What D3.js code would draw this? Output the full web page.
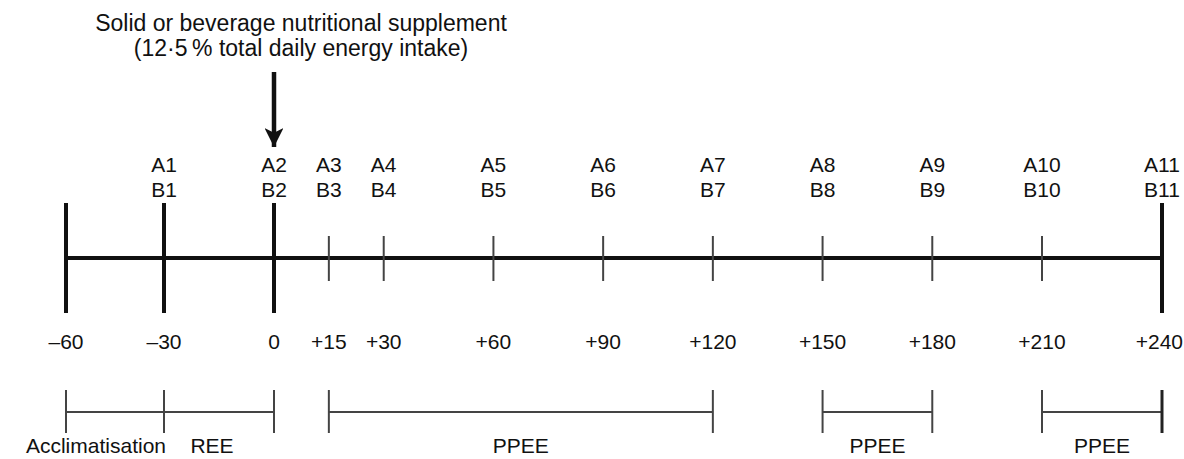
<!DOCTYPE html>
<html>
<head>
<meta charset="utf-8">
<script src="https://cdn.jsdelivr.net/npm/d3@7"></script>
<style>
  html, body { margin: 0; padding: 0; background: #fff; }
  svg text { font-family: "Liberation Sans", Arial, Helvetica, sans-serif; fill: #111; }
</style>
</head>
<body>
<svg id="chart" width="1184" height="459"></svg>
<script>
// ---- data ----
const tickTimes = [-60, -30, 0, 15, 30, 60, 90, 120, 150, 180, 210, 240];
const tickLabels = ["\u201360", "\u201330", "0", "+15", "+30", "+60", "+90", "+120", "+150", "+180", "+210", "+240"];
const majorTimes = [-60, -30, 0, 240];
const sampleTimes = [-30, 0, 15, 30, 60, 90, 120, 150, 180, 210, 240];
const sampleA = ["A1", "A2", "A3", "A4", "A5", "A6", "A7", "A8", "A9", "A10", "A11"];
const sampleB = ["B1", "B2", "B3", "B4", "B5", "B6", "B7", "B8", "B9", "B10", "B11"];
const phaseStart = [-60, -30, 15, 150, 210];
const phaseEnd = [-30, 0, 120, 180, 240];
const phaseLabels = ["Acclimatisation", "REE", "PPEE", "PPEE", "PPEE"];
const supplementTime = 0;
const titleLines = ["Solid or beverage nutritional supplement", "(12\u00b75\u2009% total daily energy intake)"];

// ---- layout ----
const W = 1184;
const svg = d3.select("#chart");
const x = d3.scaleLinear().domain([-60, -30, 0, 210, 240]).range([66, 164, 274, 1042, 1162]);
const lineY = 258;
const FS = 21;

// keep centred labels inside the right edge
function clampRight(sel) {
  sel.each(function () {
    const w = this.getComputedTextLength();
    const cx = +this.getAttribute("x");
    if (cx + w / 2 > W - 1) this.setAttribute("x", W - 1 - w / 2);
  });
}

// title
svg.append("g").selectAll("text").data(titleLines).join("text")
  .attr("x", 301).attr("y", (d, i) => 31 + i * 25)
  .attr("text-anchor", "middle").style("font-size", "23px").text(d => d);

// arrow
svg.append("defs").append("marker")
  .attr("id", "ah").attr("viewBox", "0 0 10 10").attr("refX", 10).attr("refY", 5)
  .attr("markerWidth", 4.2).attr("markerHeight", 4.2).attr("markerUnits", "strokeWidth")
  .attr("orient", "auto")
  .append("path").attr("d", "M0,0 L10,5 L0,10 L2.5,5 Z").attr("fill", "#111");
svg.append("line")
  .attr("x1", x(supplementTime)).attr("x2", x(supplementTime))
  .attr("y1", 72).attr("y2", 147)
  .attr("stroke", "#111").attr("stroke-width", 4.5).attr("marker-end", "url(#ah)");

// main line
svg.append("line")
  .attr("x1", x(tickTimes[0])).attr("x2", x(tickTimes[tickTimes.length - 1]))
  .attr("y1", lineY).attr("y2", lineY)
  .attr("stroke", "#111").attr("stroke-width", 4);

// ticks
svg.append("g").selectAll("line").data(tickTimes).join("line")
  .attr("x1", d => x(d)).attr("x2", d => x(d))
  .attr("y1", d => majorTimes.includes(d) ? 203 : 236)
  .attr("y2", d => majorTimes.includes(d) ? 313 : 281)
  .attr("stroke", d => majorTimes.includes(d) ? "#111" : "#444")
  .attr("stroke-width", d => majorTimes.includes(d) ? 4 : 2);

// tick labels
svg.append("g").selectAll("text").data(tickTimes).join("text")
  .attr("x", d => x(d)).attr("y", 349)
  .attr("text-anchor", "middle").style("font-size", FS + "px")
  .text((d, i) => tickLabels[i])
  .call(clampRight);

// sample labels
const sg = svg.append("g");
sg.selectAll("text.a").data(sampleTimes).join("text").attr("class", "a")
  .attr("x", d => x(d)).attr("y", 172).attr("text-anchor", "middle")
  .style("font-size", FS + "px").text((d, i) => sampleA[i])
  .call(clampRight);
sg.selectAll("text.b").data(sampleTimes).join("text").attr("class", "b")
  .attr("x", d => x(d)).attr("y", 197).attr("text-anchor", "middle")
  .style("font-size", FS + "px").text((d, i) => sampleB[i])
  .call(clampRight);

// phase brackets
const pg = svg.append("g");
const bY = 412, bTop = 390, bBot = 433;
phaseStart.forEach((s, i) => {
  const e = phaseEnd[i];
  const g = pg.append("g");
  g.append("line").attr("x1", x(s)).attr("x2", x(e)).attr("y1", bY).attr("y2", bY)
    .attr("stroke", "#444").attr("stroke-width", 2);
  [s, e].forEach(t => {
    g.append("line").attr("x1", x(t)).attr("x2", x(t)).attr("y1", bTop).attr("y2", bBot)
      .attr("stroke", t === 240 ? "#222" : "#444").attr("stroke-width", t === 240 ? 3 : 2);
  });
  const t = g.append("text").attr("y", 453).style("font-size", FS + "px").text(phaseLabels[i]);
  if (i === 0) {
    t.attr("x", x(e) + 2).attr("text-anchor", "end");
  } else if (i === 1) {
    t.attr("x", (x(s) + x(e)) / 2 - 7).attr("text-anchor", "middle");
  } else {
    t.attr("x", (x(s) + x(e)) / 2).attr("text-anchor", "middle");
  }
});
</script>
</body>
</html>
